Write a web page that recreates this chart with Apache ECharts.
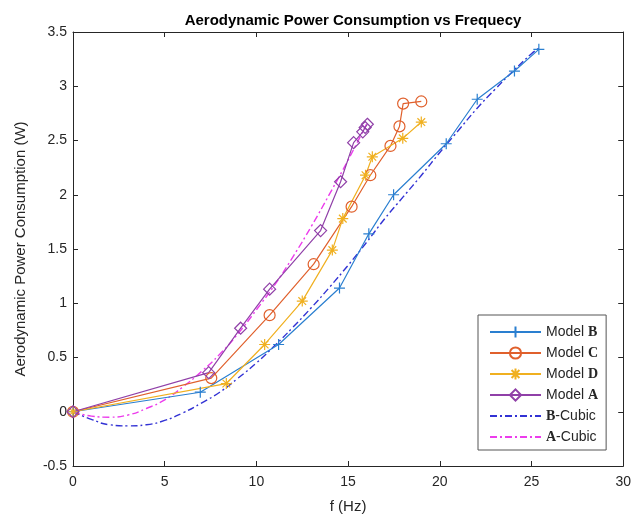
<!DOCTYPE html>
<html><head><meta charset="utf-8">
<script src="https://cdn.jsdelivr.net/npm/echarts/dist/echarts.min.js"></script>
<style>html,body{margin:0;padding:0;background:#fff}#c{width:634px;height:525px}</style>
</head><body><div id="c"></div>
<script>
// ---- data ----
const bX = [0, 6.94, 11.21, 14.53, 16.13, 17.48, 20.35, 22.04, 24.07, 25.4];
const bY = [0, 0.18, 0.62, 1.14, 1.64, 2.00, 2.47, 2.88, 3.14, 3.34];
const cX = [0, 7.54, 10.72, 13.12, 15.19, 16.21, 17.31, 17.80, 18.0, 18.99];
const cY = [0, 0.31, 0.89, 1.36, 1.89, 2.18, 2.45, 2.63, 2.84, 2.86];
const dX = [0, 8.36, 10.45, 12.5, 14.14, 14.71, 15.95, 16.32, 17.98, 18.99];
const dY = [0, 0.26, 0.62, 1.02, 1.49, 1.78, 2.18, 2.35, 2.52, 2.67];
const aX = [0, 7.40, 9.14, 10.72, 13.50, 14.59, 15.30, 15.80, 15.93, 16.05];
const aY = [0, 0.36, 0.77, 1.13, 1.67, 2.12, 2.48, 2.58, 2.62, 2.65];
const bcX = [0,1,2,3,4,5,6,7,8,9,10,11,12,13,14,15,16,17,18,19,20,21,22,23,24,25,25.4];
const bcY = [0,-0.07,-0.12,-0.13,-0.12,-0.08,-0.01,0.08,0.18,0.31,0.45,0.61,0.78,0.96,1.15,1.35,1.56,1.78,1.98,2.18,2.39,2.59,2.79,2.97,3.14,3.30,3.35];
const acX = [0,1,2,3,4,5,6,7,8,9,10,11,12,13,14,15,16];
const acY = [0,-0.04,-0.05,-0.03,0.03,0.11,0.23,0.37,0.53,0.72,0.94,1.17,1.43,1.71,2.01,2.32,2.65];
const seriesNames = ['Model B','Model C','Model D','Model A','B-Cubic','A-Cubic'];
const titleText = 'Aerodynamic Power Consumption vs Frequecy';
const xName = 'f (Hz)';
const yName = 'Aerodynamic Power Consumption (W)';

// ---- styling ----
const FONT = "'Liberation Sans', Arial, Helvetica, sans-serif";
const INK = '#262626';
const cB = '#2a7fd0', cC = '#e0602c', cD = '#f0b020', cA = '#9040a8', cBC = '#3232d4', cAC = '#ec3cec';
const PLUS = 'path://M5,0L5,10M0,5L10,5';
const STAR = 'path://M5,0L5,10M0,5L10,5M1.5,1.5L8.5,8.5M1.5,8.5L8.5,1.5';
const pts = (xs, ys) => xs.map((x, i) => [x, ys[i]]);

function markerSeries(name, xs, ys, color, symbol, size) {
  return {
    name, type: 'line', data: pts(xs, ys), symbol, symbolSize: size,
    lineStyle: { color, width: 1.2 },
    itemStyle: { color: 'rgba(0,0,0,0)', borderColor: color, borderWidth: 1.2 },
    emphasis: { disabled: true }, z: 3
  };
}
function cubicSeries(name, xs, ys, color) {
  return {
    name, type: 'line', data: pts(xs, ys), symbol: 'circle', showSymbol: false, smooth: true,
    lineStyle: { color, width: 1.4, type: [7, 3, 2, 3] },
    itemStyle: { color: 'rgba(0,0,0,0)', borderColor: 'rgba(0,0,0,0)', borderWidth: 0 },
    emphasis: { disabled: true }, z: 2
  };
}

const axisCommon = {
  axisLine: { show: true, onZero: false, lineStyle: { color: INK, width: 1 } },
  axisTick: { show: true, inside: true, length: 5, lineStyle: { color: INK, width: 1 } },
  splitLine: { show: false }
};

const chart = echarts.init(document.getElementById('c'), null, { renderer: 'canvas' });
chart.setOption({
  animation: false,
  backgroundColor: '#fff',
  title: {
    text: titleText, left: 348, top: 8, textAlign: 'center',
    textStyle: { fontFamily: FONT, fontSize: 15, fontWeight: 'bold', color: '#000' }
  },
  grid: { left: 73, top: 32, right: 10, bottom: 59, containLabel: false },
  xAxis: [
    Object.assign({}, axisCommon, {
      type: 'value', min: 0, max: 30, interval: 5, position: 'bottom',
      axisLabel: { fontFamily: FONT, fontSize: 14, color: INK, margin: 9 },
      name: xName, nameLocation: 'middle', nameGap: 33,
      nameTextStyle: { fontFamily: FONT, fontSize: 15, color: INK }
    }),
    Object.assign({}, axisCommon, {
      type: 'value', min: 0, max: 30, interval: 5, position: 'top',
      axisLabel: { show: false }
    })
  ],
  yAxis: [
    Object.assign({}, axisCommon, {
      type: 'value', min: -0.5, max: 3.5, interval: 0.5, position: 'left',
      axisLabel: { fontFamily: FONT, fontSize: 14, color: INK, margin: 6 },
      name: yName, nameLocation: 'middle', nameGap: 45,
      nameTextStyle: { fontFamily: FONT, fontSize: 15, color: INK }
    }),
    Object.assign({}, axisCommon, {
      type: 'value', min: -0.5, max: 3.5, interval: 0.5, position: 'right',
      axisLabel: { show: false }
    })
  ],
  legend: {
    data: seriesNames, orient: 'vertical', left: 478, top: 315,
    padding: [10, 8, 6, 11], itemGap: 7, itemWidth: 51, itemHeight: 14,
    backgroundColor: '#fff', borderColor: '#555', borderWidth: 1,
    formatter: function (name) {
      if (name.indexOf('Model ') === 0) return '{t|Model }{s|' + name.slice(6) + '}';
      return '{s|' + name.charAt(0) + '}{t|' + name.slice(1) + '}';
    },
    textStyle: {
      color: INK,
      rich: {
        t: { fontFamily: FONT, fontSize: 14, color: INK },
        s: { fontFamily: "'Liberation Serif', 'Times New Roman', serif", fontSize: 14, fontWeight: 'bold', color: INK }
      }
    }
  },
  series: [
    markerSeries(seriesNames[0], bX, bY, cB, PLUS, 11),
    markerSeries(seriesNames[1], cX, cY, cC, 'circle', 11),
    markerSeries(seriesNames[2], dX, dY, cD, STAR, 11),
    markerSeries(seriesNames[3], aX, aY, cA, 'diamond', 12),
    cubicSeries(seriesNames[4], bcX, bcY, cBC),
    cubicSeries(seriesNames[5], acX, acY, cAC)
  ]
});
</script></body></html>
